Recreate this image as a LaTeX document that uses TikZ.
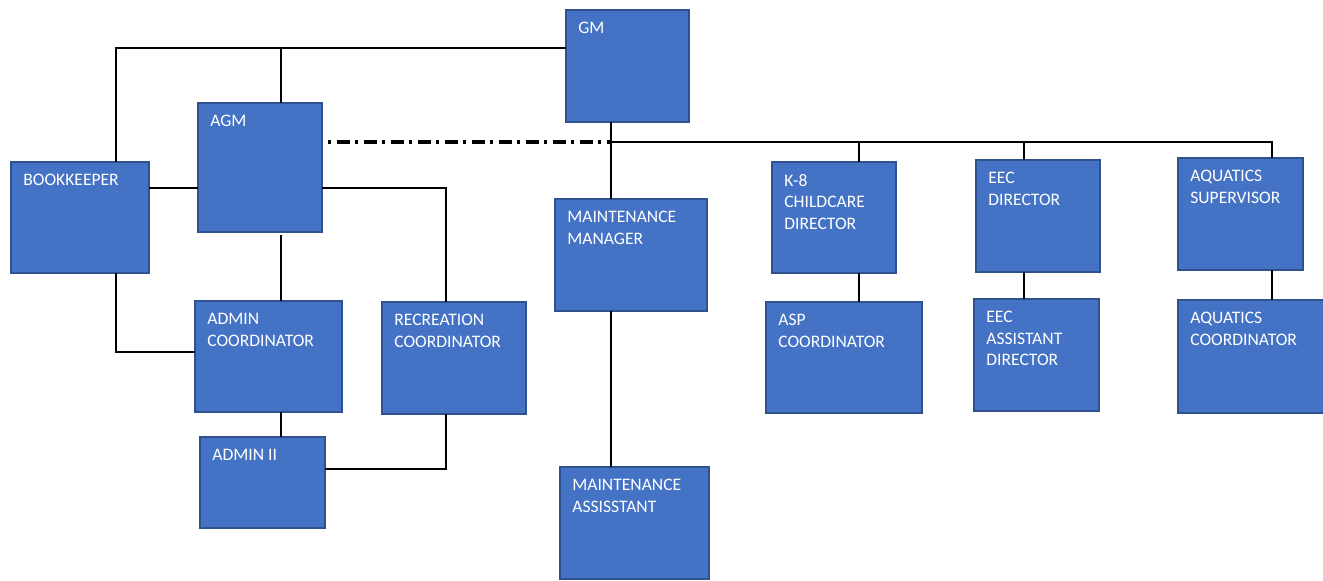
\documentclass[tikz,border=0pt]{standalone}
\usepackage{fontspec}
\setmainfont{Carlito}
\definecolor{boxfill}{HTML}{4472C4}
\definecolor{boxline}{HTML}{2F528F}
\begin{document}
\begin{tikzpicture}[x=0.02cm,y=-0.02cm,
  box/.style={draw=boxline, fill=boxfill, line width=0.7pt, inner sep=0pt, outer sep=0pt},
  lbl/.style={anchor=north west, inner sep=0pt, text=white, align=left,
    font=\fontsize{10pt}{12.2pt}\selectfont},
  link/.style={draw=black, line width=1.1pt},
  dotted link/.style={draw=black, line width=2.4pt,
    dash pattern=on 0.065cm off 0.12cm on 0.26cm off 0.095cm}]
\useasboundingbox (0,0) rectangle (1323,581);
\newcommand\obox[6]{%
  \node[box, minimum width={(#4-#2)*0.02cm}, minimum height={(#5-#3)*0.02cm}]
    (#1) at ({(#2+#4)/2},{(#3+#5)/2}) {};
  \node[lbl] (#1t) at ([shift={(0.24cm,-0.24cm)}]#1.north west) {#6};}
% boxes
\obox{gm}{566}{10}{689}{122}{GM}
\obox{agm}{198}{103}{322}{232}{AGM}
\obox{bk}{11}{162}{149}{273}{BOOKKEEPER}
\obox{ac}{195}{301}{342}{412}{ADMIN\\COORDINATOR}
\obox{rec}{382}{302}{526}{414}{RECREATION\\COORDINATOR}
\obox{aii}{200}{437}{325}{528}{ADMIN II}
\obox{mm}{555}{199}{707}{311}{MAINTENANCE\\MANAGER}
\obox{ma}{560}{467}{709}{579}{MAINTENANCE\\ASSISSTANT}
\obox{keight}{772}{162}{896}{273}{K-8\\CHILDCARE\\DIRECTOR}
\obox{asp}{766}{302}{922}{413}{ASP\\COORDINATOR}
\obox{eec}{976}{160}{1100}{272}{EEC\\DIRECTOR}
\obox{eeca}{974}{299}{1099}{411}{EEC\\ASSISTANT\\DIRECTOR}
\obox{aqs}{1178}{158}{1303}{270}{AQUATICS\\SUPERVISOR}
\obox{aqc}{1178}{300}{1326}{413}{AQUATICS\\COORDINATOR}
% junction coordinates
\coordinate (jbk) at (116,48);
\coordinate (jagm) at (281,48);
\coordinate (jgm) at (611,142);
\coordinate (jk) at (859,142);
\coordinate (je) at (1024,142);
\coordinate (jaq) at (1272,142);
\coordinate (jmid) at (149,188);
\coordinate (jrec) at (446,188);
\coordinate (jbl) at (116,352);
\coordinate (jaii) at (446,469);
% connectors
\draw[link] (gm.west |- jbk) -- (jbk) -- (jbk |- bk.north);
\draw[link] (jagm) -- (jagm |- agm.north);
\draw[link] (jgm |- gm.south) -- (jgm |- mm.north);
\draw[link] (jgm) -- (jaq) -- (jaq |- aqs.north);
\draw[link] (jk) -- (jk |- keight.north);
\draw[link] (je) -- (je |- eec.north);
\draw[dotted link] ([xshift=0.12cm]agm.east |- jgm) -- (jgm);
\draw[link] (bk.east |- jmid) -- (agm.west |- jmid);
\draw[link] (agm.east |- jrec) -- (jrec) -- (jrec |- rec.north);
\draw[link] ([yshift=-0.06cm]jagm |- agm.south) -- (jagm |- ac.north);
\draw[link] (jbl |- bk.south) -- (jbl) -- (ac.west |- jbl);
\draw[link] (jagm |- ac.south) -- (jagm |- aii.north);
\draw[link] (aii.east |- jaii) -- (jaii) -- (jaii |- rec.south);
\draw[link] (jgm |- mm.south) -- (jgm |- ma.north);
\draw[link] (jk |- keight.south) -- (jk |- asp.north);
\draw[link] (je |- eec.south) -- (je |- eeca.north);
\draw[link] (jaq |- aqs.south) -- (jaq |- aqc.north);
\end{tikzpicture}
\end{document}
